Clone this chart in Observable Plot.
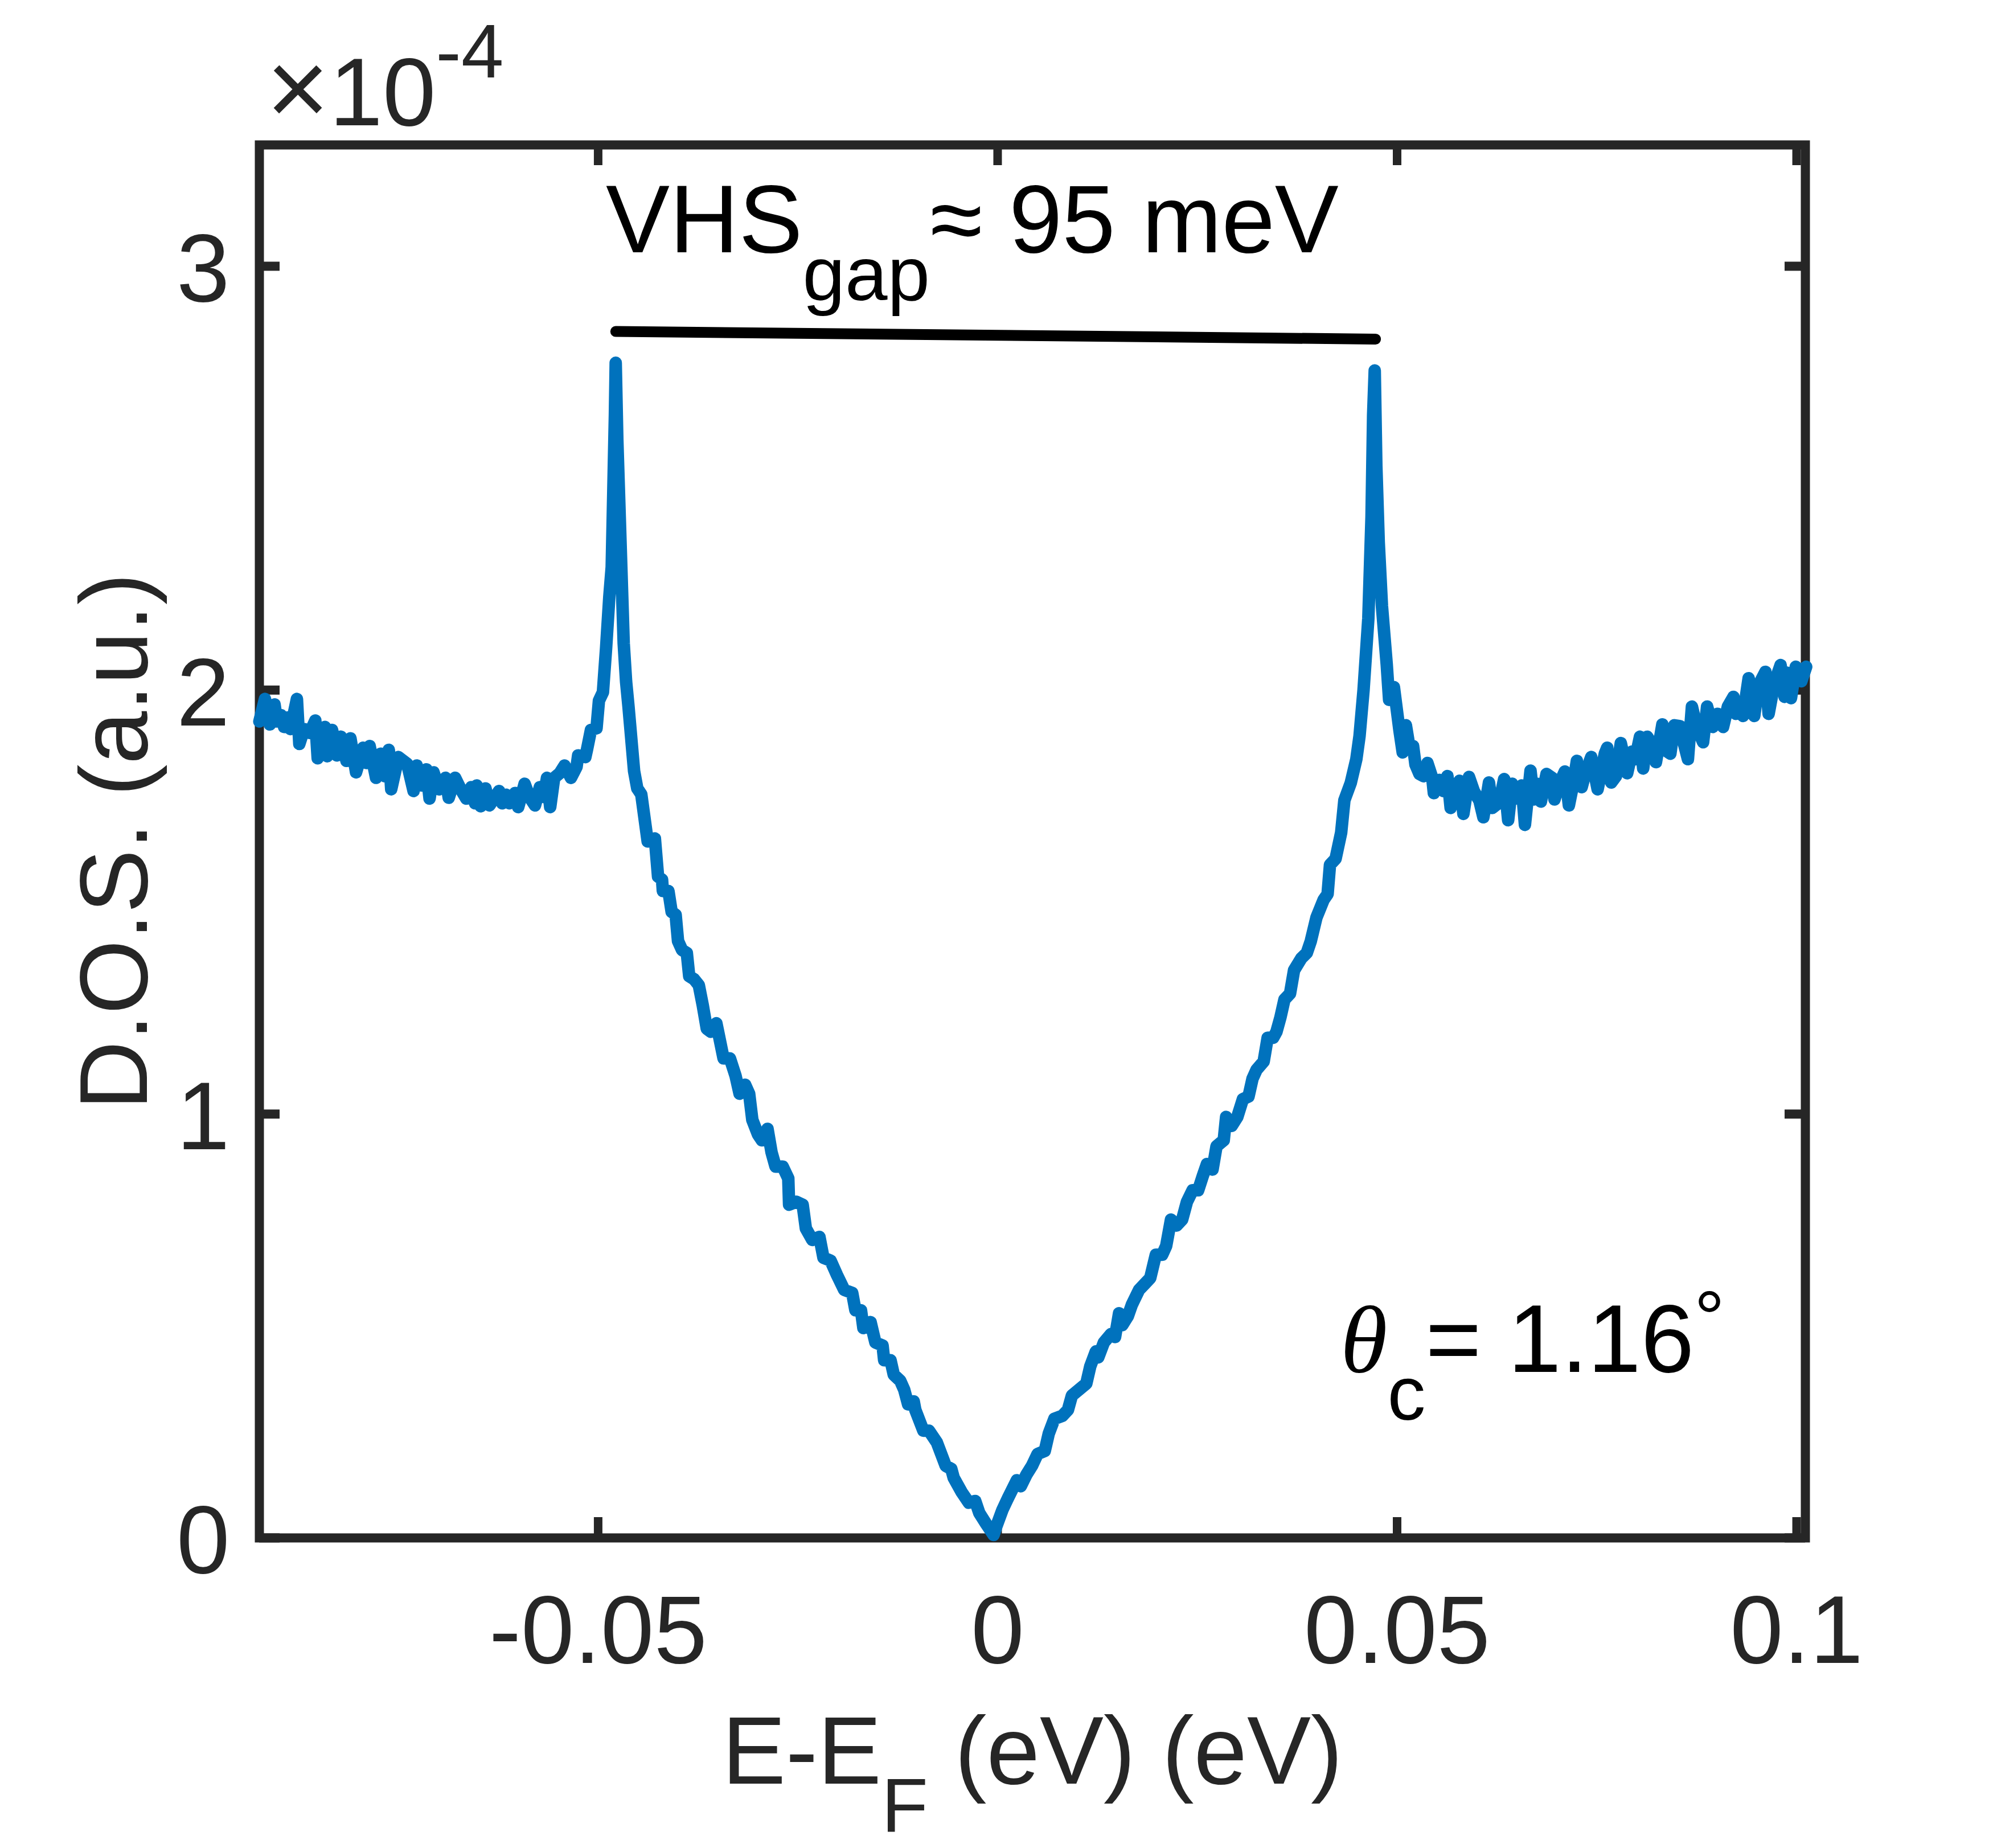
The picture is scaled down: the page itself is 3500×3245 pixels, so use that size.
<!DOCTYPE html>
<html>
<head>
<meta charset="utf-8">
<script src="https://cdn.jsdelivr.net/npm/d3@7"></script>
<script src="https://cdn.jsdelivr.net/npm/@observablehq/plot@0.6"></script>
<style>
  html, body { margin: 0; padding: 0; background: #ffffff; }
  #chart svg text { white-space: pre; }
</style>
</head>
<body>
<div id="chart"></div>
<script>
// ---------- data ----------
const energy = [
  -0.0924,-0.0917,-0.0911,-0.0905,-0.0902,-0.0897,-0.0893,-0.0889,-0.0885,-0.0877,
  -0.0874,-0.0868,-0.0861,-0.0854,-0.0851,-0.0842,-0.0839,-0.0833,-0.0827,-0.0822,
  -0.0815,-0.0810,-0.0803,-0.0794,-0.0790,-0.0786,-0.0778,-0.0772,-0.0767,-0.0762,
  -0.0759,-0.0750,-0.0739,-0.0731,-0.0727,-0.0721,-0.0715,-0.0711,-0.0706,-0.0699,
  -0.0691,-0.0687,-0.0679,-0.0672,-0.0665,-0.0659,-0.0654,-0.0652,-0.0647,-0.0641,
  -0.0636,-0.0624,-0.0620,-0.0615,-0.0611,-0.0604,-0.0600,-0.0592,-0.0586,-0.0579,
  -0.0573,-0.0568,-0.0564,-0.0560,-0.0555,-0.0548,-0.0542,-0.0534,-0.0527,-0.0525,
  -0.0516,-0.0514,-0.0509,-0.0502,-0.0499,-0.0494,-0.0490,-0.0486,-0.0483,-0.0481,
  -0.0479,-0.0478,-0.0476,-0.0473,-0.0471,-0.0468,-0.0465,-0.0462,
  -0.0455,-0.0451,-0.0446,-0.0438,-0.0429,-0.0425,-0.0420,-0.0419,-0.0412,-0.0408,
  -0.0403,-0.0400,-0.0395,-0.0389,-0.0386,-0.0380,-0.0374,-0.0369,-0.0364,-0.0359,
  -0.0352,-0.0343,-0.0335,-0.0328,-0.0323,-0.0316,-0.0311,-0.0307,-0.0300,-0.0295,
  -0.0288,-0.0283,-0.0278,-0.0269,-0.0262,-0.0261,-0.0252,-0.0244,-0.0240,-0.0232,
  -0.0223,-0.0218,-0.0209,-0.0201,-0.0192,-0.0182,-0.0178,-0.0171,-0.0168,-0.0159,
  -0.0153,-0.0144,-0.0142,-0.0134,-0.0130,-0.0122,-0.0117,-0.0112,-0.0105,-0.0103,
  -0.0093,-0.0086,-0.0076,-0.0065,-0.0058,-0.0055,-0.0045,-0.0036,-0.0028,-0.0023,
  -0.0014,-0.0005,
  -0.0002,0.0006,0.0013,0.0024,0.0029,0.0036,0.0043,0.0050,0.0059,0.0064,
  0.0071,0.0081,0.0088,0.0093,0.0102,0.0111,0.0116,0.0123,0.0126,0.0133,
  0.0142,0.0147,0.0152,0.0156,0.0163,0.0168,0.0177,0.0184,0.0191,0.0198,
  0.0206,0.0211,0.0217,0.0224,0.0231,0.0237,0.0244,0.0251,0.0257,0.0262,
  0.0269,0.0274,0.0283,0.0286,0.0293,0.0300,0.0307,0.0314,0.0319,0.0324,
  0.0333,0.0338,0.0345,0.0349,0.0354,0.0359,0.0366,0.0371,0.0380,0.0387,
  0.0392,0.0399,0.0408,0.0413,0.0416,0.0423,0.0430,0.0434,0.0442,0.0449,
  0.0453,
  0.0458,0.0464,0.0468,0.0470,0.0472,0.0474,0.0477,0.0481,0.0487,0.0490,
  0.0496,0.0503,
  0.0507,0.0511,0.0516,0.0520,0.0523,0.0528,0.0533,0.0538,0.0544,0.0546,
  0.0553,0.0558,0.0563,0.0567,0.0572,0.0578,0.0583,0.0590,0.0596,0.0603,
  0.0608,0.0615,0.0619,0.0628,0.0634,0.0639,0.0644,0.0651,0.0656,0.0660,
  0.0667,0.0671,0.0675,0.0680,0.0687,0.0694,0.0697,0.0703,0.0710,0.0715,
  0.0721,0.0725,0.0731,0.0736,0.0743,0.0751,0.0760,0.0763,0.0768,0.0774,
  0.0780,0.0788,0.0794,0.0798,0.0804,0.0808,0.0813,0.0819,0.0824,0.0832,
  0.0838,0.0842,0.0847,0.0854,0.0858,0.0864,0.0869,0.0875,0.0883,0.0888,
  0.0895,0.0901,0.0908,0.0914,0.0921,0.0924,0.0931,0.0933,0.0940,0.0947,
  0.0952,0.0961,0.0965,0.0972,0.0980,0.0985,0.0988,0.0993,0.0999,0.1006,
  0.1012
];
const dos = [
  1.926,1.979,1.919,1.966,1.926,1.941,1.913,1.935,1.908,1.979,
  1.873,1.908,1.899,1.928,1.839,1.913,1.844,1.906,1.846,1.890,
  1.833,1.886,1.806,1.864,1.828,1.868,1.793,1.850,1.797,1.859,
  1.766,1.842,1.826,1.762,1.822,1.775,1.813,1.744,1.806,1.766,
  1.793,1.746,1.793,1.766,1.744,1.771,1.733,1.775,1.726,1.768,
  1.728,1.762,1.733,1.753,1.733,1.757,1.724,1.779,1.748,1.728,
  1.771,1.748,1.793,1.724,1.793,1.804,1.822,1.793,1.819,1.846,
  1.842,1.859,1.906,1.910,1.975,1.995,2.100,2.220,2.290,2.470,
  2.650,2.772,2.590,2.410,2.290,2.110,2.020,1.961,
  1.809,1.768,1.754,1.643,1.650,1.560,1.553,1.526,1.526,1.477,
  1.470,1.408,1.387,1.380,1.325,1.318,1.304,1.256,1.201,1.194,
  1.214,1.131,1.131,1.090,1.048,1.069,1.048,0.986,0.952,0.938,
  0.965,0.910,0.876,0.876,0.848,0.786,0.793,0.786,0.730,0.703,
  0.710,0.661,0.654,0.620,0.585,0.578,0.537,0.537,0.495,0.509,
  0.461,0.454,0.419,0.419,0.385,0.371,0.350,0.315,0.322,0.302,
  0.253,0.253,0.225,0.170,0.163,0.142,0.108,0.083,0.087,0.059,
  0.032,0.007,
  0.025,0.066,0.094,0.136,0.122,0.149,0.170,0.198,0.205,0.246,
  0.281,0.288,0.302,0.336,0.350,0.364,0.405,0.440,0.426,0.461,
  0.481,0.474,0.530,0.502,0.523,0.550,0.585,0.599,0.613,0.668,
  0.668,0.689,0.751,0.737,0.751,0.793,0.820,0.820,0.855,0.882,
  0.869,0.924,0.938,0.993,0.972,0.993,1.035,1.041,1.083,1.104,
  1.124,1.180,1.180,1.194,1.228,1.270,1.284,1.339,1.367,1.380,
  1.408,1.463,1.505,1.519,1.588,1.602,1.664,1.740,1.781,1.837,
  1.892,
  2.000,2.169,2.409,2.649,2.754,2.529,2.349,2.199,2.061,1.977,
  2.007,1.904,
  1.853,1.917,1.859,1.868,1.824,1.802,1.797,1.828,1.793,1.757,
  1.788,1.762,1.797,1.722,1.757,1.786,1.708,1.795,1.762,1.739,
  1.700,1.782,1.722,1.735,1.790,1.693,1.779,1.744,1.775,1.682,
  1.810,1.742,1.779,1.737,1.802,1.793,1.742,1.779,1.808,1.728,
  1.784,1.833,1.771,1.806,1.842,1.766,1.850,1.864,1.782,1.797,
  1.875,1.804,1.855,1.837,1.890,1.815,1.890,1.873,1.830,1.919,
  1.855,1.850,1.917,1.915,1.881,1.837,1.961,1.913,1.877,1.961,
  1.913,1.944,1.913,1.961,1.984,1.944,1.966,1.939,2.028,1.939,
  2.010,2.043,1.944,2.015,2.059,1.984,2.041,1.981,2.055,2.021,
  2.055
];

const xTicks = [-0.05, 0, 0.05, 0.1];
const xTickLabels = ["-0.05", "0", "0.05", "0.1"];
const yTicks = [0, 1, 2, 3];
const yTickLabels = ["0", "1", "2", "3"];

const gapBarX = [-0.0478, 0.0473];
const gapBarY = [2.846, 2.828];

// rich-text labels: [text, kind]  kind: "" normal, "sub", "sup", "deg", "it", "big"
const xLabelParts = [["E-E", ""], ["F", "sub"], [" (eV) (eV)", ""]];
const yLabelParts = [["D.O.S. (a.u.)", ""]];
const exponentParts = [["\u00d7", "big"], ["10", ""], ["-4", "sup"]];
const gapLabelParts = [["VHS", ""], ["gap", "sub"], ["\u2248 95 meV", ""]];
const thetaLabelParts = [["\u03b8", "it"], ["c", "sub"], ["= 1.16", ""], ["\u00b0", "deg"]];
const gapLabelPos = [-0.04903, 3.0324];
const thetaLabelPos = [0.0429, 0.391];

// ---------- chart ----------
const W = 3500, H = 3245;
const mL = 455, mR = 330, mT = 254, mB = 545;
const plotW = W - mL - mR, plotH = H - mT - mB;
const tickLen = 36;
const FS = 168, SUBFS = 134, SHIFT = 84;
const axisColor = "#262626";
const join = parts => parts.map(p => p[0]).join("");

const table = energy.map((e, i) => ({e, d: dos[i]}));
const gapBar = gapBarX.map((x, i) => ({x, y: gapBarY[i]}));

const chart = Plot.plot({
  width: W,
  height: H,
  marginLeft: mL,
  marginRight: mR,
  marginTop: mT,
  marginBottom: mB,
  style: {
    fontFamily: "'Liberation Sans', Arial, Helvetica, sans-serif",
    fontSize: FS + "px",
    color: axisColor,
    background: "#ffffff"
  },
  x: {domain: [-0.0924, 0.1011]},
  y: {domain: [0, 3.286]},
  marks: [
    // inward ticks on all four sides
    Plot.ruleY(yTicks, {y: d => d, stroke: axisColor, strokeWidth: 16, insetRight: plotW - tickLen}),
    Plot.ruleY(yTicks, {y: d => d, stroke: axisColor, strokeWidth: 16, insetLeft: plotW - tickLen}),
    Plot.ruleX(xTicks, {x: d => d, stroke: axisColor, strokeWidth: 15, insetTop: plotH - tickLen}),
    Plot.ruleX(xTicks, {x: d => d, stroke: axisColor, strokeWidth: 15, insetBottom: plotH - tickLen}),
    Plot.frame({stroke: axisColor, strokeWidth: 16}),
    Plot.line(table, {x: "e", y: "d", stroke: "#0072BD", strokeWidth: 22,
      strokeLinejoin: "round", strokeLinecap: "round"}),
    Plot.line(gapBar, {x: "x", y: "y", stroke: "#000000", strokeWidth: 19}),
    Plot.axisX({ticks: xTicks, tickFormat: d => xTickLabels[xTicks.indexOf(d)], anchor: "bottom",
      tickSize: 0, tickPadding: 100, label: null, fontSize: FS}),
    Plot.axisY({ticks: yTicks, tickFormat: d => yTickLabels[yTicks.indexOf(d)], anchor: "left",
      tickSize: 0, tickPadding: 52, label: null, fontSize: FS, dy: 8}),
    // axis titles
    Plot.text([join(xLabelParts)], {text: d => d, frameAnchor: "bottom", dy: 431,
      textAnchor: "middle", lineAnchor: "bottom", fontSize: FS, fill: axisColor}),
    Plot.text([join(yLabelParts)], {text: d => d, frameAnchor: "left", dx: -198, rotate: -90,
      textAnchor: "middle", lineAnchor: "bottom", fontSize: FS, fill: axisColor}),
    Plot.text([join(exponentParts)], {text: d => d, frameAnchor: "top-left", dx: 12, dy: -35,
      textAnchor: "start", lineAnchor: "bottom", fontSize: FS, fill: axisColor}),
    // annotations
    Plot.text([join(gapLabelParts)], {text: d => d, x: () => gapLabelPos[0], y: () => gapLabelPos[1],
      textAnchor: "start", lineAnchor: "bottom", fontSize: FS, fill: "#000000"}),
    Plot.text([join(thetaLabelParts)], {text: d => d, x: () => thetaLabelPos[0], y: () => thetaLabelPos[1],
      textAnchor: "start", lineAnchor: "bottom", fontSize: FS, fill: "#000000"})
  ]
});

// turn the plain strings into tspans with sub/superscripts
const rich = new Map([xLabelParts, yLabelParts, exponentParts, gapLabelParts, thetaLabelParts]
  .map(p => [join(p), p]));
chart.querySelectorAll("text").forEach(el => {
  const parts = rich.get(el.textContent);
  if (!parts || parts.length < 2) return;
  el.textContent = "";
  let shift = 0;
  for (const [t, k] of parts) {
    const ts = document.createElementNS("http://www.w3.org/2000/svg", "tspan");
    const target = k === "sub" ? SHIFT : k === "sup" ? -SHIFT : k === "deg" ? -49 : 0;
    const dy = target - shift;
    if (dy) ts.setAttribute("dy", dy);
    shift = target;
    if (k === "sub" || k === "sup" || k === "deg") ts.setAttribute("font-size", SUBFS);
    if (k === "big") {
      ts.setAttribute("font-size", 190);
      ts.setAttribute("font-weight", 300);
    }
    if (k === "it") {
      ts.setAttribute("font-family", "'Liberation Serif', 'Times New Roman', serif");
      ts.setAttribute("font-style", "italic");
    }
    ts.textContent = t;
    el.appendChild(ts);
  }
});

document.getElementById("chart").appendChild(chart);
</script>
</body>
</html>
